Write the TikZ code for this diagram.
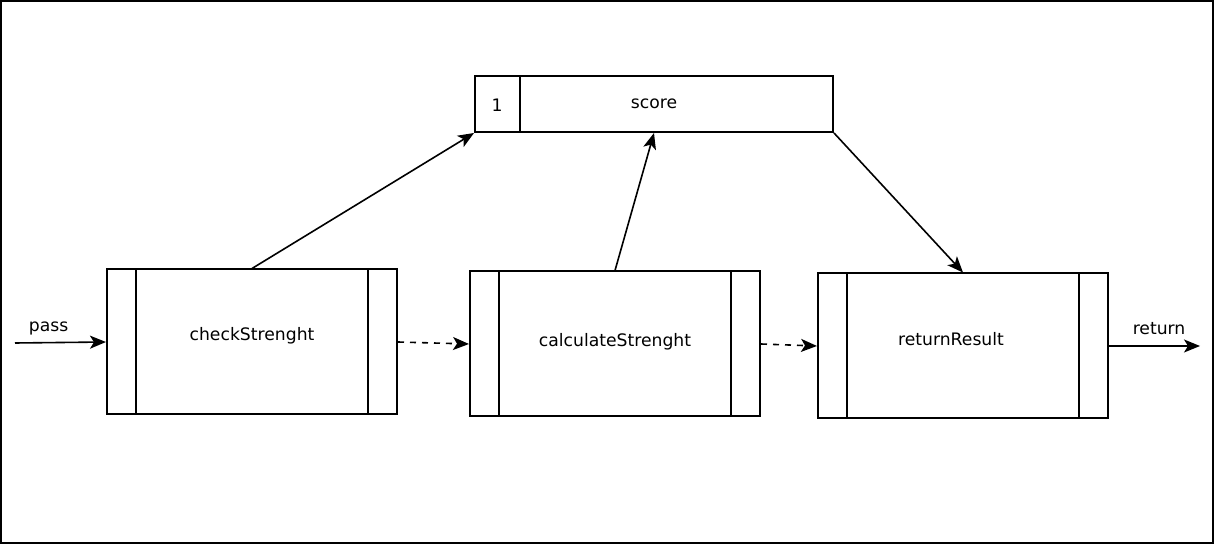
\documentclass[tikz,border=0pt]{standalone}
\usepackage{fontspec}
\setmainfont{DejaVu Sans}
\usetikzlibrary{arrows.meta, positioning}

\begin{document}
\begin{tikzpicture}[x=0.5pt, y=-0.5pt, font=\fontsize{8.6}{10}\selectfont]
    % Styles
    \tikzstyle{proc} = [rectangle, draw=black, line width=1pt, minimum width=145pt, minimum height=72.5pt, inner sep=0pt,
        path picture={\draw[line width=0.7pt] ([xshift=14.5pt]path picture bounding box.north west) -- ([xshift=14.5pt]path picture bounding box.south west);
                      \draw[line width=0.7pt] ([xshift=-14.5pt]path picture bounding box.north east) -- ([xshift=-14.5pt]path picture bounding box.south east);}]
    \tikzstyle{store} = [rectangle, draw=black, line width=1pt, minimum width=179pt, minimum height=28pt, inner sep=0pt,
        path picture={\draw[line width=0.7pt] ([xshift=22.5pt]path picture bounding box.north west) -- ([xshift=22.5pt]path picture bounding box.south west);}]
    \tikzstyle{arrow} = [thick,->,>={Stealth[length=8pt, width=6.5pt, inset=2pt]}]

    % Frame
    \useasboundingbox (0,0) rectangle (1214,544);
    \draw[line width=1pt] (1,1) rectangle (1213,543);

    % Nodes
    \node (score) [store] at (654,104) {score};
    \node (one) at (497,105) {1};
    \node (check) [proc] at (252,342) {\raisebox{3pt}[\height][\depth]{checkStrenght}};
    \node (calc) [proc] at (615,344) {\raisebox{1pt}[\height][\depth]{calculateStrenght}};
    \node (result) [proc] at (963,346) {\kern-12pt\raisebox{3.5pt}[\height][\depth]{returnResult}};
    \coordinate (passin) at (15,343);
    \coordinate (retout) at (1200,346);

    % Arrows
    \draw [arrow] (passin) -- node[above, pos=0.37] {pass} (check.west);
    \draw [arrow, dashed] (check.east) -- (calc.west);
    \draw [arrow, dashed] (calc.east) -- (result.west);
    \draw [arrow] (result.east) -- node[above=2pt, pos=0.55] {return} (retout);
    \draw [arrow] (check.north) -- (score.south west);
    \draw [arrow] (calc.north) -- (score.south);
    \draw [arrow] (score.south east) -- (result.north);
\end{tikzpicture}
\end{document}
